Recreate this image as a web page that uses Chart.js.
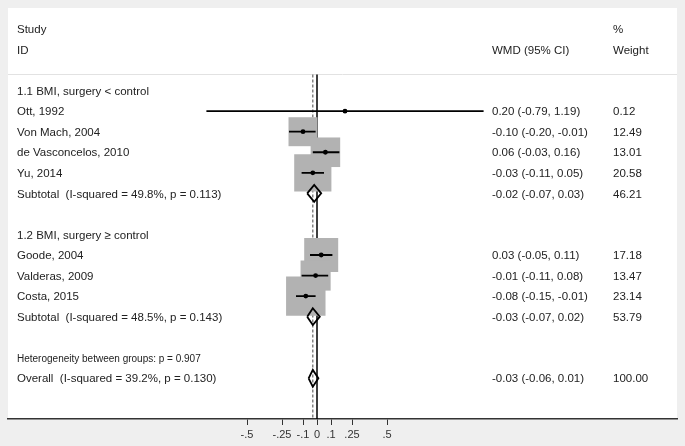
<!DOCTYPE html>
<html>
<head>
<meta charset="utf-8">
<script src="https://cdn.jsdelivr.net/npm/chart.js@4/dist/chart.umd.min.js"></script>
<style>
  html, body { margin: 0; padding: 0; background: #efefef; }
  #wrap { width: 685px; height: 446px; position: relative; }
</style>
</head>
<body>
<div id="wrap"><canvas id="c" width="685" height="446"></canvas></div>
<script>
// ---- data ----
const studies = ["Ott, 1992", "Von Mach, 2004", "de Vasconcelos, 2010", "Yu, 2014", "Goode, 2004", "Valderas, 2009", "Costa, 2015"];
const studyRows = [4, 5, 6, 7, 11, 12, 13];
const estimates = [0.20, -0.10, 0.06, -0.03, 0.03, -0.01, -0.08];
const lowerCI = [-0.79, -0.20, -0.03, -0.11, -0.05, -0.11, -0.15];
const upperCI = [1.19, -0.01, 0.16, 0.05, 0.11, 0.08, -0.01];
const weights = [0.12, 12.49, 13.01, 20.58, 17.18, 13.47, 23.14];

const pooledLabels = ["Subtotal  (I-squared = 49.8%, p = 0.113)", "Subtotal  (I-squared = 48.5%, p = 0.143)", "Overall  (I-squared = 39.2%, p = 0.130)"];
const pooledRows = [8, 14, 17];
const pooledEst = [-0.02, -0.03, -0.03];
const pooledLower = [-0.07, -0.07, -0.06];
const pooledUpper = [0.03, 0.02, 0.01];
const pooledWeights = [46.21, 53.79, 100.00];

const groupLabels = ["1.1 BMI, surgery < control", "1.2 BMI, surgery \u2265 control"];
const groupRows = [3, 10];
const heterogeneityLabel = "Heterogeneity between groups: p = 0.907";
const heterogeneityRow = 16;

const tickValues = [-0.5, -0.25, -0.1, 0, 0.1, 0.25, 0.5];
const tickLabels = ["-.5", "-.25", "-.1", "0", ".1", ".25", ".5"];

const overallEstimate = pooledEst[2];
const nullValue = 0;

// ---- layout constants ----
const Y_MIN = -1.02, Y_MAX = 18.98;
const LINE_TOP = 2.21;
const DIAMOND_HALF = 0.41;
const BOX_K = 8.2; // px per sqrt(weight)
const FONT = "'Liberation Sans', Arial, sans-serif";

// ---- build datasets ----
const boxData = studies.map((s, i) => ({ x: estimates[i], y: studyRows[i] }));
const boxRadius = weights.map(w => BOX_K * Math.sqrt(w) / Math.SQRT2);
const ciData = [];
studies.forEach((s, i) => {
  ciData.push({ x: lowerCI[i], y: studyRows[i] });
  ciData.push({ x: upperCI[i], y: studyRows[i] });
  ciData.push({ x: null, y: null });
});
const diamondData = [];
pooledRows.forEach((r, i) => {
  diamondData.push({ x: pooledLower[i], y: r });
  diamondData.push({ x: pooledEst[i], y: r - DIAMOND_HALF });
  diamondData.push({ x: pooledUpper[i], y: r });
  diamondData.push({ x: pooledEst[i], y: r + DIAMOND_HALF });
  diamondData.push({ x: pooledLower[i], y: r });
  diamondData.push({ x: null, y: null });
});

const textPlugin = {
  id: 'forestText',
  beforeDraw(chart) {
    const { ctx, chartArea: a } = chart;
    ctx.save();
    ctx.fillStyle = '#ffffff';
    ctx.fillRect(a.left, a.top, a.right - a.left, a.bottom - a.top);
    const ys = chart.scales.y;
    const sy = ys.getPixelForValue(LINE_TOP);
    ctx.strokeStyle = '#e2e2e2';
    ctx.lineWidth = 1;
    ctx.beginPath();
    ctx.moveTo(a.left, Math.round(sy) + 0.5);
    ctx.lineTo(a.right, Math.round(sy) + 0.5);
    ctx.stroke();
    ctx.restore();
  },
  afterDraw(chart) {
    const { ctx } = chart;
    const ys = chart.scales.y;
    const colLeft = 17, colCI = 492, colW = 613;
    ctx.save();
    ctx.fillStyle = '#222';
    ctx.textBaseline = 'middle';
    ctx.textAlign = 'left';
    ctx.font = '11.5px ' + FONT;
    const put = (t, x, r) => ctx.fillText(t, x, ys.getPixelForValue(r) + 1);
    put('Study', colLeft, 0);
    put('ID', colLeft, 1);
    put('%', colW, 0);
    put('Weight', colW, 1);
    put('WMD (95% CI)', colCI, 1);
    groupLabels.forEach((g, i) => put(g, colLeft, groupRows[i]));
    const fmt = v => v.toFixed(2);
    studies.forEach((s, i) => {
      put(s, colLeft, studyRows[i]);
      put(`${fmt(estimates[i])} (${fmt(lowerCI[i])}, ${fmt(upperCI[i])})`, colCI, studyRows[i]);
      put(fmt(weights[i]), colW, studyRows[i]);
    });
    pooledLabels.forEach((l, i) => {
      put(l, colLeft, pooledRows[i]);
      put(`${fmt(pooledEst[i])} (${fmt(pooledLower[i])}, ${fmt(pooledUpper[i])})`, colCI, pooledRows[i]);
      put(fmt(pooledWeights[i]), colW, pooledRows[i]);
    });
    ctx.font = '10px ' + FONT;
    put(heterogeneityLabel, colLeft, heterogeneityRow);
    ctx.restore();
  }
};

new Chart(document.getElementById('c'), {
  type: 'scatter',
  data: {
    datasets: [
      { // point estimates
        data: boxData, pointRadius: 2.4, pointStyle: 'circle',
        pointBackgroundColor: '#000', pointBorderWidth: 0, order: 0
      },
      { // diamonds
        data: diamondData, showLine: true, borderColor: '#000', borderWidth: 1.8,
        backgroundColor: 'rgba(0,0,0,0)', fill: false, pointRadius: 0,
        spanGaps: false, borderJoinStyle: 'miter', order: 1
      },
      { // confidence intervals
        data: ciData, showLine: true, borderColor: '#000', borderWidth: 1.8,
        pointRadius: 0, spanGaps: false, order: 1
      },
      { // weight boxes
        data: boxData, pointStyle: 'rect', pointRadius: boxRadius,
        pointBackgroundColor: '#b2b2b2', pointBorderWidth: 0, order: 2
      },
      { // null line
        data: [{ x: nullValue, y: LINE_TOP }, { x: nullValue, y: Y_MAX }],
        showLine: true, borderColor: '#000', borderWidth: 1.5, pointRadius: 0, order: 3
      },
      { // overall estimate dashed line
        data: [{ x: overallEstimate, y: LINE_TOP }, { x: overallEstimate, y: Y_MAX }],
        showLine: true, borderColor: '#666', borderWidth: 1.2, borderDash: [3, 2],
        pointRadius: 0, order: 3
      }
    ]
  },
  options: {
    responsive: false,
    animation: false,
    events: [],
    layout: { autoPadding: false, padding: { left: 8, right: 8, top: 8, bottom: 0 } },
    plugins: { legend: { display: false }, tooltip: { enabled: false } },
    scales: {
      x: {
        type: 'linear',
        min: (8 - 317) / 140,
        max: (677 - 317) / 140,
        afterBuildTicks(scale) { scale.ticks = tickValues.map(v => ({ value: v })); },
        afterFit(scale) { scale.height = 27; },
        grid: { display: true, drawOnChartArea: false, drawTicks: true, tickLength: 6, color: '#333', lineWidth: 1 },
        border: { display: true, color: '#333', width: 1.5 },
        ticks: {
          autoSkip: false, maxRotation: 0, padding: 3, color: '#333',
          font: { family: FONT, size: 11 },
          callback: (v) => { const i = tickValues.indexOf(v); return i >= 0 ? tickLabels[i] : ''; }
        }
      },
      y: {
        type: 'linear', display: false, reverse: true, min: Y_MIN, max: Y_MAX
      }
    }
  },
  plugins: [textPlugin]
});
</script>
</body>
</html>
